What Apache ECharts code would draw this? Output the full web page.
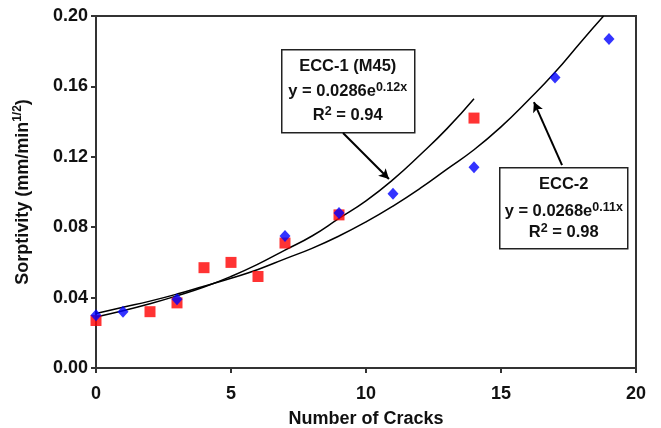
<!DOCTYPE html>
<html lang="en">
<head>
    <meta charset="UTF-8">
    <title>chart</title>
    <script src="https://cdn.jsdelivr.net/npm/echarts@6/dist/echarts.min.js"></script>
    <style>
        html, body { margin: 0; padding: 0; background: #fff; }
    </style>
</head>
<body>
<div id="container" style="width:661px;height:428px"></div>
<script type="text/javascript">
    // measured points
    var ecc1Cracks = [0, 2, 3, 4, 5, 6, 7, 9, 14];
    var ecc1Sorptivity = [0.027, 0.032, 0.037, 0.057, 0.060, 0.052, 0.071, 0.087, 0.142];
    var ecc2Cracks = [0, 1, 3, 7, 9, 11, 14, 17, 19];
    var ecc2Sorptivity = [0.030, 0.032, 0.039, 0.075, 0.088, 0.099, 0.114, 0.165, 0.187];

    // trend curves
    var fit1X = [0, 1, 2, 3, 4, 5, 6, 7, 8, 9, 10, 11, 12, 13, 14];
    var fit1Y = [0.029, 0.0325, 0.0365, 0.041, 0.046, 0.052, 0.059, 0.067, 0.075, 0.085, 0.095, 0.107, 0.121, 0.136, 0.153];
    var fit2X = [0, 1, 2, 3, 4, 5, 6, 7, 8, 9, 10, 11, 12, 13, 14, 15, 16, 17, 18, 18.8];
    var fit2Y = [0.031, 0.0345, 0.038, 0.042, 0.0465, 0.051, 0.056, 0.062, 0.068, 0.075, 0.083, 0.092, 0.102, 0.113, 0.124, 0.137, 0.152, 0.168, 0.186, 0.200];

    var xTicks = [0, 5, 10, 15, 20];
    var yTicks = [0, 0.04, 0.08, 0.12, 0.16, 0.20];

    var axisColor = '#333';
    var textColor = '#111';
    var fontFamily = '"Liberation Sans", Arial, sans-serif';

    function pairs(xs, ys) {
        return xs.map(function (x, i) { return [x, ys[i]]; });
    }

    function boxText(main, sup, tail) {
        return '{a|' + main + '}{s|' + sup + '}' + (tail ? '{a|' + tail + '}' : '');
    }

    var richSup = {
        a: {font: 'bold 16.5px ' + fontFamily, fill: textColor, lineHeight: 22},
        s: {font: 'bold 12.5px ' + fontFamily, fill: textColor, lineHeight: 22, verticalAlign: 'top'}
    };

    var dom = document.getElementById("container");
    var myChart = echarts.init(dom, null, {renderer: 'canvas'});

    var option = {
        animation: false,
        textStyle: {fontFamily: fontFamily},
        grid: {
            left: 96, top: 16, right: 25, bottom: 60,
            outerBoundsMode: 'none',
            containLabel: false,
            show: true,
            borderColor: axisColor,
            borderWidth: 2,
            backgroundColor: 'transparent'
        },
        xAxis: {
            type: 'value',
            min: xTicks[0], max: xTicks[xTicks.length - 1], interval: 5,
            name: 'Number of Cracks',
            nameLocation: 'middle',
            nameGap: 42,
            nameTextStyle: {fontSize: 18, fontWeight: 'bold', color: textColor, fontFamily: fontFamily},
            axisLine: {lineStyle: {color: axisColor, width: 2}},
            axisTick: {show: true, length: 5, lineStyle: {color: axisColor, width: 2}},
            axisLabel: {fontSize: 18, fontWeight: 'bold', color: textColor, margin: 17, fontFamily: fontFamily},
            splitLine: {show: false}
        },
        yAxis: {
            type: 'value',
            min: yTicks[0], max: yTicks[yTicks.length - 1], interval: 0.04,
            name: '{a|Sorptivity (mm/min}{s|1/2}{a|)}',
            nameLocation: 'middle',
            nameGap: 62,
            nameRotate: 90,
            nameTextStyle: {
                color: textColor,
                rich: {
                    a: {fontSize: 18, fontWeight: 'bold', color: textColor, fontFamily: fontFamily, lineHeight: 22},
                    s: {fontSize: 12, fontWeight: 'bold', color: textColor, fontFamily: fontFamily, lineHeight: 22, verticalAlign: 'top'}
                }
            },
            axisLine: {show: true, lineStyle: {color: axisColor, width: 2}},
            axisTick: {show: true, length: 5, lineStyle: {color: axisColor, width: 2}},
            axisLabel: {
                fontSize: 18, fontWeight: 'bold', color: textColor, margin: 8, fontFamily: fontFamily,
                formatter: function (val) { return val.toFixed(2); }
            },
            splitLine: {show: false}
        },
        series: [
            {
                type: 'line',
                name: 'fit ECC-1',
                data: pairs(fit1X, fit1Y),
                smooth: true,
                showSymbol: false,
                lineStyle: {color: '#000', width: 1.5},
                z: 1,
                markLine: {
                    silent: true,
                    symbol: ['none', 'arrow'],
                    symbolSize: [8, 10],
                    label: {show: false},
                    lineStyle: {color: '#000', width: 2, type: 'solid'},
                    data: [[{coord: [9.15, 0.1335]}, {coord: [10.85, 0.1074]}]]
                }
            },
            {
                type: 'line',
                name: 'fit ECC-2',
                data: pairs(fit2X, fit2Y),
                smooth: true,
                showSymbol: false,
                lineStyle: {color: '#000', width: 1.5},
                z: 1,
                markLine: {
                    silent: true,
                    symbol: ['none', 'arrow'],
                    symbolSize: [8, 10],
                    label: {show: false},
                    lineStyle: {color: '#000', width: 2, type: 'solid'},
                    data: [[{coord: [17.26, 0.1153]}, {coord: [16.22, 0.1511]}]]
                }
            },
            {
                type: 'scatter',
                name: 'ECC-1',
                data: pairs(ecc1Cracks, ecc1Sorptivity),
                symbol: 'rect',
                symbolSize: 11,
                itemStyle: {color: '#ff0000'},
                z: 3
            },
            {
                type: 'scatter',
                name: 'ECC-2',
                data: pairs(ecc2Cracks, ecc2Sorptivity),
                symbol: 'diamond',
                symbolSize: [11, 12],
                itemStyle: {color: '#0000ff'},
                z: 4
            }
        ],
        graphic: [
            {
                type: 'group', left: 281, top: 49, z: 10,
                children: [
                    {type: 'rect', shape: {x: 0, y: 0, width: 133, height: 83},
                        style: {fill: '#fff', stroke: '#222', lineWidth: 1.5}},
                    {type: 'text', x: 66, y: 17, style: {
                        text: 'ECC-1 (M45)', align: 'center', verticalAlign: 'middle',
                        font: 'bold 16.5px ' + fontFamily, fill: textColor}},
                    {type: 'text', x: 66, y: 42, style: {
                        text: boxText('y = 0.0286e', '0.12x'), align: 'center', verticalAlign: 'middle',
                        rich: richSup}},
                    {type: 'text', x: 66, y: 66, style: {
                        text: boxText('R', '2', ' = 0.94'), align: 'center', verticalAlign: 'middle',
                        rich: richSup}}
                ]
            },
            {
                type: 'group', left: 499, top: 167, z: 10,
                children: [
                    {type: 'rect', shape: {x: 0, y: 0, width: 128, height: 81},
                        style: {fill: '#fff', stroke: '#222', lineWidth: 1.5}},
                    {type: 'text', x: 64, y: 17, style: {
                        text: 'ECC-2', align: 'center', verticalAlign: 'middle',
                        font: 'bold 16.5px ' + fontFamily, fill: textColor}},
                    {type: 'text', x: 64, y: 44, style: {
                        text: boxText('y = 0.0268e', '0.11x'), align: 'center', verticalAlign: 'middle',
                        rich: richSup}},
                    {type: 'text', x: 64, y: 65, style: {
                        text: boxText('R', '2', ' = 0.98'), align: 'center', verticalAlign: 'middle',
                        rich: richSup}}
                ]
            }
        ]
    };

    myChart.setOption(option, true);
</script>
</body>
</html>
